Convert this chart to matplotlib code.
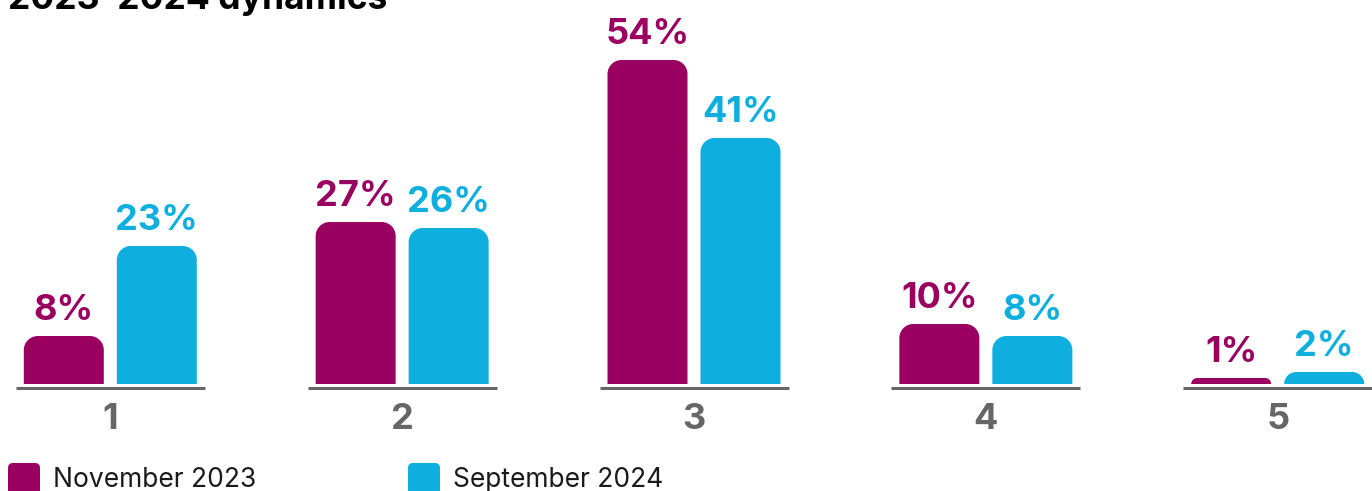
import matplotlib.pyplot as plt
from matplotlib.path import Path
from matplotlib.patches import PathPatch, FancyBboxPatch

categories = ["1", "2", "3", "4", "5"]
series = ["November 2023", "September 2024"]
nov_2023 = [8, 27, 54, 10, 1]
sep_2024 = [23, 26, 41, 8, 2]
title = "2023–2024 dynamics"

colors = ["#990060", "#0EAEDE"]
gray = "#666666"
font = "Inter"

W, H, DPI = 1372, 491, 100
fig = plt.figure(figsize=(W / DPI, H / DPI), dpi=DPI)
ax = fig.add_axes([0, 0, 1, 1])
ax.axis("off")

# pixel scales (group spacing and % height)
px_x = 291.85
px_y = 6.0
x_first = 110.3    # px of first group centre
y_zero = 384       # px from top of bar baseline
ax.set_xlim(-x_first / px_x, (W - x_first) / px_x)
ax.set_ylim(-(H - y_zero) / px_y, y_zero / px_y)

bar_w = 80 / px_x
offset = 46.5 / px_x
radius_px = 14


def round_top_bar(xc, h, color):
    x0, x1 = xc - bar_w / 2, xc + bar_w / 2
    r = min(radius_px, h * px_y)
    rx, ry = r / px_x, r / px_y
    k = 0.5523
    verts = [
        (x0, 0), (x0, h - ry),
        (x0, h - ry + k * ry), (x0 + rx - k * rx, h), (x0 + rx, h),
        (x1 - rx, h),
        (x1 - rx + k * rx, h), (x1, h - ry + k * ry), (x1, h - ry),
        (x1, 0), (x0, 0),
    ]
    codes = [Path.MOVETO, Path.LINETO,
             Path.CURVE4, Path.CURVE4, Path.CURVE4,
             Path.LINETO,
             Path.CURVE4, Path.CURVE4, Path.CURVE4,
             Path.LINETO, Path.CLOSEPOLY]
    ax.add_patch(PathPatch(Path(verts, codes), facecolor=color, edgecolor="none"))


for i, cat in enumerate(categories):
    for j, vals in enumerate([nov_2023, sep_2024]):
        xc = i + (j * 2 - 1) * offset
        v = vals[i]
        round_top_bar(xc, v, colors[j])
        ax.annotate(f"{v}%", (xc, v), xytext=(0, 11.5), textcoords="offset points",
                    ha="center", va="baseline", fontsize=26, fontweight="bold",
                    color=colors[j], family=font)
    ax.plot([i - 94.5 / px_x, i + 94.5 / px_x], [-4 / px_y, -4 / px_y],
            color=gray, lw=2.2, solid_capstyle="butt")
    ax.text(i, -(429 - y_zero) / px_y, cat, ha="center", va="baseline",
            fontsize=26, fontweight="bold", color=gray, family=font)

# title (partly cut off at top, as in the source)
fig.text(8 / W, 1 - 9 / H, title, ha="left", va="baseline", fontsize=25.5,
         fontweight="bold", color="black", family=font)

# legend
leg_x = [8, 408]
for j, name in enumerate(series):
    fig.patches.append(FancyBboxPatch((leg_x[j] / W, (H - 495) / H), 32 / W, 32 / H,
                                      boxstyle="round,pad=0,rounding_size=%f" % (5 / W),
                                      mutation_aspect=W / H,
                                      transform=fig.transFigure, facecolor=colors[j],
                                      edgecolor="none"))
    fig.text((leg_x[j] + 45) / W, 1 - 487 / H, name, ha="left", va="baseline",
             fontsize=19, color="#1a1a1a", family=font)

fig.savefig("out.png", dpi=DPI)
